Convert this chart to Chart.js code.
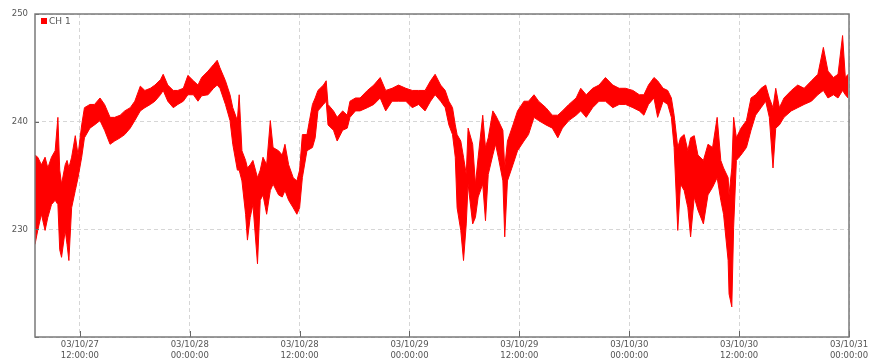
<!DOCTYPE html>
<html>
<head>
<meta charset="utf-8">
<script src="https://cdn.jsdelivr.net/npm/chart.js"></script>
<style>
  html, body { margin: 0; padding: 0; background: #fff; }
  #wrap { width: 874px; height: 363px; position: relative; }
</style>
</head>
<body>
<div id="wrap"><canvas id="ch1Chart"></canvas></div>
<script>
// hours since 03/10/27 00:00:00
const hours = [
  7.1, 7.4, 7.8, 8.2, 8.5, 8.9, 9.3, 9.6, 9.8, 10.0, 10.4, 10.6, 10.8, 11.1, 11.5, 11.8,
  12.2, 12.5, 13.1, 13.6, 14.2, 14.7, 15.3, 15.8, 16.4, 16.9, 17.5, 18.0, 18.6, 19.1, 19.7, 20.2, 20.8, 21.1, 21.6, 22.2, 22.7, 23.3, 23.8,
  24.4, 24.9, 25.3, 26.0, 26.6, 27.0, 27.3, 27.9, 28.4, 28.7, 29.2, 29.4, 29.7, 30.1, 30.3, 30.6, 30.9, 31.4, 31.7, 32.0, 32.4, 32.8, 33.1, 33.7, 34.1, 34.4, 34.8, 35.3, 35.7,
  36.0, 36.3, 36.8, 37.4, 37.7, 38.0, 38.6, 38.9, 39.1, 39.7, 40.1, 40.7, 41.2, 41.5, 42.1, 42.6, 43.4, 44.1, 44.8, 45.4, 46.1, 46.8, 47.6,
  48.3, 49.0, 49.7, 50.3, 50.8, 51.4, 51.9, 52.3, 52.7, 53.0, 53.2, 53.6, 53.9, 54.2, 54.4, 54.9, 55.2, 55.5, 56.0, 56.3, 56.6, 57.1, 57.4, 57.7, 58.2, 58.4, 58.7, 59.3, 59.8,
  60.5, 61.0, 61.6, 62.1, 62.9, 63.6, 64.2, 64.7, 65.4, 66.2, 66.7, 67.3, 68.0, 68.7, 69.4, 70.2, 70.9, 71.6,
  72.4, 73.1, 73.6, 74.1, 74.7, 75.1, 75.7, 76.2, 76.6, 76.9, 77.3, 77.6, 78.0, 78.4, 78.7, 79.1, 79.5, 80.1, 80.6, 81.1, 81.6, 82.0, 82.3, 82.8, 82.9, 83.2, 83.4, 83.7,
  84.2, 84.8, 85.3, 85.8, 86.4, 86.9, 87.3, 87.7, 88.0, 88.4, 88.9, 89.7, 90.4, 91.1, 91.9, 92.6, 93.2, 93.7, 94.3, 94.8, 95.3, 95.6, 95.9
];

// upper edge of the CH 1 trace
const ch1High = [
  236.9, 236.7, 236.0, 236.7, 235.7, 236.7, 237.3, 240.4, 235.5, 234.2, 236.0, 236.4, 235.7, 236.7, 238.7, 236.9,
  239.7, 241.3, 241.6, 241.6, 242.2, 241.6, 240.4, 240.4, 240.6, 241.0, 241.3, 241.9, 243.3, 242.9, 243.1, 243.4, 243.9, 244.4, 243.4, 242.9, 242.9, 243.1, 244.3,
  243.8, 243.4, 244.1, 244.7, 245.3, 245.7, 245.0, 243.8, 242.5, 241.3, 240.1, 242.5, 237.3, 236.4, 235.7, 236.0, 236.4, 234.8, 235.5, 236.7, 236.0, 240.1, 237.6, 237.3, 236.9, 237.9, 236.0, 234.8, 234.5,
  235.5, 238.8, 238.8, 241.6, 242.2, 242.9, 243.4, 243.8, 241.6, 241.0, 240.4, 241.0, 240.6, 241.9, 242.2, 242.2, 242.9, 243.4, 244.1, 242.9, 243.1, 243.4, 243.1,
  242.9, 242.9, 242.9, 243.8, 244.4, 243.4, 242.9, 241.9, 241.3, 239.7, 238.8, 238.2, 236.7, 235.1, 239.4, 237.9, 234.2, 236.7, 240.6, 237.6, 238.5, 241.0, 240.6, 240.1, 239.2, 235.7, 238.2, 239.7, 241.0,
  241.9, 241.9, 242.5, 241.9, 241.3, 240.6, 240.6, 241.0, 241.6, 242.2, 243.1, 242.5, 243.1, 243.4, 244.1, 243.4, 243.1, 243.1,
  242.9, 242.5, 242.5, 243.4, 244.1, 243.8, 243.1, 242.9, 242.2, 240.6, 237.6, 238.5, 238.8, 237.3, 238.5, 238.7, 236.9, 236.4, 237.9, 237.6, 240.4, 236.4, 235.7, 234.8, 233.2, 235.7, 240.4, 238.5,
  239.4, 240.1, 242.2, 242.5, 243.1, 243.4, 242.2, 241.3, 243.1, 241.3, 242.2, 242.9, 243.4, 243.1, 243.8, 244.4, 246.9, 244.7, 244.1, 244.4, 248.0, 244.1, 244.4
];

// lower edge of the CH 1 trace
const ch1Low = [
  228.6, 229.9, 231.4, 229.9, 231.1, 232.3, 232.7, 232.3, 228.1, 227.4, 229.9, 228.6, 227.1, 232.0, 233.6, 234.8,
  236.7, 238.5, 239.4, 239.7, 240.1, 239.2, 237.9, 238.2, 238.5, 238.8, 239.4, 240.1, 241.0, 241.3, 241.6, 241.9, 242.5, 242.9, 241.9, 241.3, 241.6, 241.9, 242.5,
  242.5, 241.9, 242.4, 242.5, 243.1, 243.4, 243.1, 241.6, 240.1, 237.9, 235.5, 235.5, 234.5, 231.4, 229.0, 231.1, 232.3, 226.8, 232.7, 233.2, 231.4, 233.6, 234.2, 233.2, 233.0, 233.6, 232.7, 232.0, 231.4,
  232.0, 234.8, 237.3, 237.6, 238.5, 241.0, 241.6, 241.9, 239.7, 239.2, 238.2, 239.2, 239.4, 240.4, 241.0, 241.0, 241.3, 241.6, 242.2, 241.0, 241.9, 241.9, 241.9,
  241.3, 241.6, 241.0, 241.9, 242.5, 241.9, 241.3, 239.7, 238.8, 236.7, 232.0, 229.9, 227.1, 230.5, 234.2, 230.5, 231.1, 233.0, 234.2, 230.8, 235.1, 236.9, 237.9, 236.7, 234.5, 229.3, 234.5, 236.0, 237.3,
  238.2, 238.8, 240.4, 240.1, 239.7, 239.4, 238.5, 239.4, 240.1, 240.6, 241.0, 240.4, 241.3, 241.9, 241.9, 241.3, 241.6, 241.6,
  241.3, 241.0, 240.6, 241.6, 242.2, 240.4, 241.9, 241.6, 240.4, 237.6, 229.9, 234.2, 233.6, 232.0, 229.3, 233.0, 231.8, 230.5, 233.2, 233.9, 234.8, 232.7, 231.4, 227.1, 224.0, 222.8, 230.2, 236.4,
  236.9, 237.6, 239.2, 240.6, 241.3, 241.9, 240.4, 235.7, 239.4, 239.7, 240.4, 241.0, 241.3, 241.6, 241.9, 242.5, 242.9, 242.2, 242.5, 242.2, 242.9, 242.5, 242.2
];

const tickHours = [12, 24, 36, 48, 60, 72, 84, 96];
const tickDates = ['03/10/27', '03/10/28', '03/10/28', '03/10/29', '03/10/29', '03/10/30', '03/10/30', '03/10/31'];
const tickTimes = ['12:00:00', '00:00:00', '12:00:00', '00:00:00', '12:00:00', '00:00:00', '12:00:00', '00:00:00'];
const yLabels = [250, 240, 230];

const seriesName = 'CH 1';
const red = '#ff0000';
const textColor = '#555';
const fontFamily = "'DejaVu Sans', sans-serif";

// frame, inward tick marks and the in-plot legend
const framePlugin = {
    id: 'frame',
    afterDraw(chart) {
        const ctx = chart.ctx;
        const a = chart.chartArea;
        const xs = chart.scales.x;
        const ys = chart.scales.y;
        ctx.save();
        ctx.strokeStyle = '#666';
        ctx.lineWidth = 1;
        xs.ticks.forEach(t => {
            const px = Math.round(xs.getPixelForValue(t.value)) + 0.5;
            ctx.beginPath();
            ctx.moveTo(px, a.bottom);
            ctx.lineTo(px, a.bottom - 6);
            ctx.stroke();
        });
        ys.ticks.forEach(t => {
            const py = Math.round(ys.getPixelForValue(t.value)) + 0.5;
            ctx.beginPath();
            ctx.moveTo(a.left, py);
            ctx.lineTo(a.left + 4, py);
            ctx.stroke();
        });
        ctx.strokeStyle = '#7a7a7a';
        ctx.lineWidth = 1.5;
        ctx.strokeRect(a.left, a.top, a.right - a.left, a.bottom - a.top);

        ctx.fillStyle = red;
        ctx.fillRect(a.left + 6, a.top + 4, 6, 6);
        ctx.fillStyle = textColor;
        ctx.font = '9px ' + fontFamily;
        ctx.textBaseline = 'middle';
        ctx.fillText(chart.data.datasets[0].label, a.left + 14, a.top + 7.5);
        ctx.restore();
    }
};

new Chart(document.getElementById('ch1Chart'), {
    type: 'line',
    data: {
        datasets: [{
            label: seriesName,
            data: hours.map((h, i) => ({ x: h, y: ch1High[i] })),
            borderColor: red,
            backgroundColor: red,
            borderWidth: 1,
            pointRadius: 0,
            tension: 0,
            fill: '+1'
        }, {
            label: seriesName + ' low',
            data: hours.map((h, i) => ({ x: h, y: ch1Low[i] })),
            borderColor: red,
            backgroundColor: red,
            borderWidth: 1,
            pointRadius: 0,
            tension: 0,
            fill: false
        }]
    },
    options: {
        responsive: true,
        maintainAspectRatio: false,
        animation: false,
        layout: {
            padding: { top: 14, right: 25, left: 0, bottom: 0 }
        },
        scales: {
            x: {
                type: 'linear',
                min: 7.1,
                max: 96,
                afterBuildTicks: scale => {
                    scale.ticks = tickHours.map(v => ({ value: v }));
                },
                afterFit: scale => { scale.height = 26; },
                grid: {
                    color: '#d6d6d6',
                    drawTicks: false
                },
                border: { display: false, dash: [4, 3] },
                ticks: {
                    autoSkip: false,
                    maxRotation: 0,
                    padding: 3,
                    color: textColor,
                    font: { family: fontFamily, size: 8.5 },
                    callback: (value, index) => [tickDates[index], tickTimes[index]]
                }
            },
            y: {
                min: 220,
                max: 250,
                afterFit: scale => { scale.width = 35; },
                grid: {
                    color: '#d6d6d6',
                    drawTicks: false
                },
                border: { display: false, dash: [4, 3] },
                ticks: {
                    stepSize: 10,
                    padding: 7,
                    color: textColor,
                    font: { family: fontFamily, size: 8.5 },
                    callback: value => yLabels.includes(value) ? String(value) : ''
                }
            }
        },
        plugins: {
            legend: { display: false },
            tooltip: { enabled: false }
        }
    },
    plugins: [framePlugin]
});
</script>
</body>
</html>
